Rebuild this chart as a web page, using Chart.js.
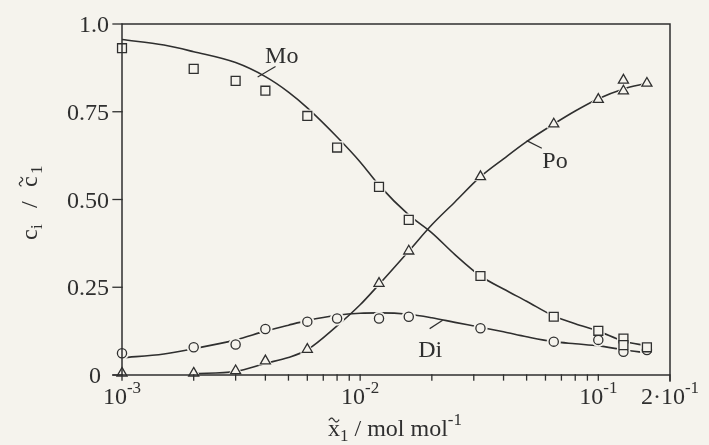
<!DOCTYPE html>
<html>
<head>
<meta charset="utf-8">
<script src="https://cdn.jsdelivr.net/npm/chart.js@4/dist/chart.umd.min.js"></script>
<style>
  html, body { margin: 0; padding: 0; background: #f5f3ed; }
  #wrap { width: 709px; height: 445px; position: relative; }
</style>
</head>
<body>
<div id="wrap"><canvas id="c"></canvas></div>
<script>
// Measured fractions (squares = Mo, circles = Di, triangles = Po)
const moX = [0.001, 0.002, 0.003, 0.004, 0.006, 0.008, 0.012, 0.016, 0.032, 0.065, 0.1, 0.1275, 0.1275, 0.16];
const moY = [0.931, 0.872, 0.838, 0.810, 0.738, 0.648, 0.536, 0.442, 0.282, 0.166, 0.126, 0.104, 0.085, 0.079];

const diX = [0.001, 0.002, 0.003, 0.004, 0.006, 0.008, 0.012, 0.016, 0.032, 0.065, 0.1, 0.1275, 0.16];
const diY = [0.062, 0.079, 0.087, 0.131, 0.152, 0.161, 0.161, 0.166, 0.133, 0.095, 0.100, 0.066, 0.071];

const poX = [0.001, 0.002, 0.003, 0.004, 0.006, 0.012, 0.016, 0.032, 0.065, 0.1, 0.1275, 0.1275, 0.16];
const poY = [0.005, 0.005, 0.012, 0.040, 0.073, 0.261, 0.353, 0.565, 0.715, 0.785, 0.840, 0.809, 0.831];

// Model curves, sampled along the concentration axis
const curveX  = [0.001, 0.0015, 0.002, 0.003, 0.004, 0.005, 0.006, 0.008, 0.01, 0.012, 0.016, 0.02, 0.025, 0.032, 0.04, 0.05, 0.065, 0.08, 0.1, 0.1275, 0.16];
const moCurve = [0.956, 0.940, 0.921, 0.890, 0.850, 0.806, 0.761, 0.678, 0.607, 0.541, 0.456, 0.405, 0.343, 0.282, 0.245, 0.210, 0.168, 0.146, 0.125, 0.097, 0.083];
const diCurve = [0.049, 0.060, 0.075, 0.100, 0.125, 0.142, 0.155, 0.170, 0.176, 0.177, 0.173, 0.163, 0.150, 0.136, 0.123, 0.109, 0.095, 0.089, 0.083, 0.072, 0.063];
const poCurve = [null, null, 0.004, 0.010, 0.033, 0.050, 0.072, 0.140, 0.200, 0.258, 0.353, 0.428, 0.493, 0.565, 0.616, 0.665, 0.715, 0.752, 0.787, 0.815, 0.831];

// Axis ticks
const yTickVals = [0, 0.25, 0.5, 0.75, 1.0];
const yTickText = ['0', '0.25', '0.50', '0.75', '1.0'];
const xTickVals = [0.001, 0.01, 0.1, 0.2];
const xTickBase = ['10', '10', '10', '2\u00b710'];
const xTickExp  = ['-3', '-2', '-1', '-1'];

// Curve names and where they sit (text anchor, leader line ends)
const curveNames = ['Mo', 'Po', 'Di'];
const nameAt     = [[0.00399, 0.889], [0.0582, 0.590], [0.01753, 0.051]];
const leaderFrom = [[0.00373, 0.850], [0.0503, 0.667], [0.01968, 0.133]];
const leaderTo   = [[0.00439, 0.878], [0.0576, 0.647], [0.0221, 0.155]];

const PAPER = '#f5f3ed';
const INK = '#2f2f2f';
const SERIF = '"Liberation Serif", "Times New Roman", serif';

function pts(xs, ys) { return xs.map((x, i) => ({ x: x, y: ys[i] })); }

function curveSet(ys) {
  return {
    data: pts(curveX, ys), borderColor: INK, borderWidth: 1.6,
    pointRadius: 0, cubicInterpolationMode: 'monotone', fill: false,
    spanGaps: false, order: 3, clip: false
  };
}
function haloSet(xs, ys, style, r) {
  return {
    data: pts(xs, ys), showLine: false, pointStyle: style, pointRadius: r + 2,
    pointBackgroundColor: PAPER, pointBorderColor: PAPER, pointBorderWidth: 1,
    order: 2, clip: false
  };
}
function markSet(xs, ys, style, r) {
  return {
    data: pts(xs, ys), showLine: false, pointStyle: style, pointRadius: r,
    pointBackgroundColor: PAPER, pointBorderColor: INK, pointBorderWidth: 1.3,
    order: 1, clip: false
  };
}

function tilde(ctx, cx, cy, w) {
  const h = w * 0.2;
  ctx.beginPath();
  for (let i = 0; i <= 20; i++) {
    const t = i / 20;
    const px = cx - w / 2 + w * t;
    const py = cy - h * Math.sin(2 * Math.PI * t);
    if (i === 0) ctx.moveTo(px, py); else ctx.lineTo(px, py);
  }
  ctx.lineWidth = 1.2;
  ctx.stroke();
}

// Text pieces: [text, size, baselineShift, tildeOver]
function runWidth(ctx, parts) {
  let w = 0;
  parts.forEach(p => { ctx.font = p[1] + 'px ' + SERIF; w += ctx.measureText(p[0]).width; });
  return w;
}
function drawPiece(ctx, p, x, y) {
  ctx.font = p[1] + 'px ' + SERIF;
  const w = ctx.measureText(p[0]).width;
  ctx.fillText(p[0], x, y + p[2]);
  if (p[3]) tilde(ctx, x + w / 2, y - 16, w * 0.8);
  return w;
}
function drawRun(ctx, parts, x, y) {
  let cx = x;
  parts.forEach(p => { cx += drawPiece(ctx, p, cx, y); });
}

const paperAxes = {
  id: 'paperAxes',
  afterDraw(chart) {
    const ctx = chart.ctx;
    const xs = chart.scales.x, ys = chart.scales.y;
    const L = xs.getPixelForValue(0.001), R = xs.getPixelForValue(0.2);
    const T = ys.getPixelForValue(1.0), B = ys.getPixelForValue(0);
    ctx.save();
    ctx.strokeStyle = INK;
    ctx.fillStyle = INK;
    ctx.lineWidth = 1.5;
    ctx.lineCap = 'square';

    // frame
    ctx.beginPath();
    ctx.moveTo(L, B); ctx.lineTo(L, T); ctx.lineTo(R, T); ctx.lineTo(R, B + 6);
    ctx.moveTo(L - 9, B); ctx.lineTo(R, B);
    ctx.stroke();

    // y ticks and labels
    ctx.lineWidth = 1.3;
    ctx.textAlign = 'right';
    ctx.textBaseline = 'alphabetic';
    ctx.font = '24px ' + SERIF;
    yTickVals.forEach((v, i) => {
      const py = ys.getPixelForValue(v);
      ctx.beginPath(); ctx.moveTo(L - 9, py); ctx.lineTo(L, py); ctx.stroke();
      const right = v === 0 ? L - 21 : L - 13;
      ctx.fillText(yTickText[i], right, py + 8);
    });

    // x ticks: every 1..9 multiple of each decade
    for (let d = 0.001; d < 0.2; d *= 10) {
      for (let m = 1; m <= 9; m++) {
        const v = d * m;
        if (v > 0.2 + 1e-9) break;
        const px = xs.getPixelForValue(v);
        ctx.beginPath(); ctx.moveTo(px, B); ctx.lineTo(px, B + 5); ctx.stroke();
      }
    }

    // x tick labels with exponents
    ctx.textAlign = 'left';
    xTickVals.forEach((v, i) => {
      const px = xs.getPixelForValue(v);
      const parts = [[xTickBase[i], 24, 0], [xTickExp[i], 17, -11]];
      const w = runWidth(ctx, parts);
      drawRun(ctx, parts, px - w / 2, B + 29);
    });

    // x axis title
    const xt = [['x', 24, 0, true], ['1', 17, 5], [' / mol mol', 24, 0], ['-1', 17, -11]];
    const xw = runWidth(ctx, xt);
    drawRun(ctx, xt, 395 - xw / 2, B + 61);

    // y axis title, rotated; pieces spaced out along the axis
    ctx.save();
    ctx.translate(37, 200);
    ctx.rotate(-Math.PI / 2);
    drawPiece(ctx, ['c', 24, 0], -40, 0);
    drawPiece(ctx, ['i', 17, 5], -29, 0);
    drawPiece(ctx, ['/', 24, 0], -8, 0);
    drawPiece(ctx, ['c', 24, 0, true], 13, 0);
    drawPiece(ctx, ['1', 17, 5], 26, 0);
    ctx.restore();

    // curve names with leader lines
    ctx.font = '24px ' + SERIF;
    ctx.lineWidth = 1.2;
    curveNames.forEach((name, i) => {
      ctx.fillText(name, xs.getPixelForValue(nameAt[i][0]), ys.getPixelForValue(nameAt[i][1]));
      ctx.beginPath();
      ctx.moveTo(xs.getPixelForValue(leaderFrom[i][0]), ys.getPixelForValue(leaderFrom[i][1]));
      ctx.lineTo(xs.getPixelForValue(leaderTo[i][0]), ys.getPixelForValue(leaderTo[i][1]));
      ctx.stroke();
    });
    ctx.restore();
  }
};

new Chart(document.getElementById('c'), {
  type: 'line',
  data: {
    datasets: [
      curveSet(moCurve), curveSet(diCurve), curveSet(poCurve),
      haloSet(moX, moY, 'rect', 6.3), haloSet(diX, diY, 'circle', 4.6), haloSet(poX, poY, 'triangle', 5.8),
      markSet(moX, moY, 'rect', 6.3), markSet(diX, diY, 'circle', 4.6), markSet(poX, poY, 'triangle', 5.8)
    ]
  },
  options: {
    responsive: true,
    maintainAspectRatio: false,
    animation: false,
    events: [],
    layout: { padding: { left: 122, right: 39, top: 24, bottom: 70 } },
    plugins: { legend: { display: false }, tooltip: { enabled: false } },
    scales: {
      x: { type: 'logarithmic', min: 0.001, max: 0.2, display: false },
      y: { type: 'linear', min: 0, max: 1.0, display: false }
    }
  },
  plugins: [paperAxes]
});
</script>
</body>
</html>
